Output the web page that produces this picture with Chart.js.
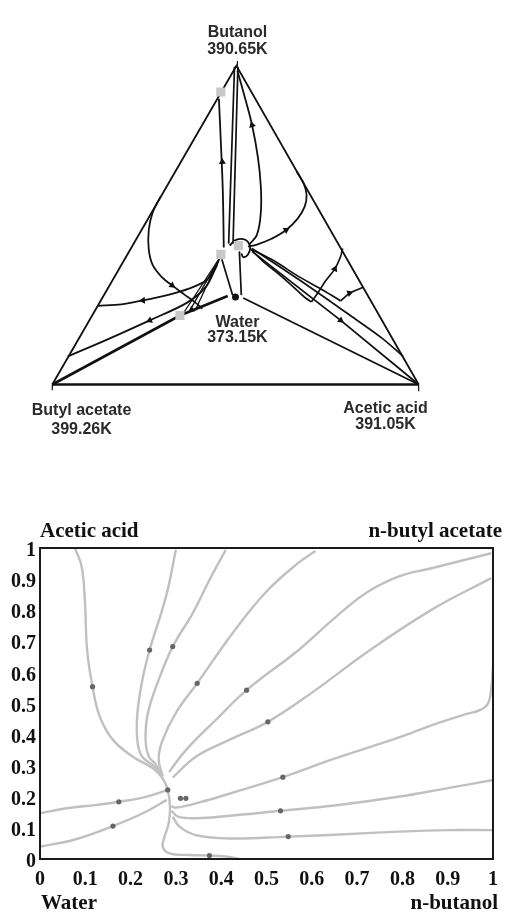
<!DOCTYPE html>
<html>
<head>
<meta charset="utf-8">
<script src="https://cdn.jsdelivr.net/npm/chart.js@4.4.1/dist/chart.umd.min.js"></script>
<style>
  body { margin: 0; background: #fff; }
  canvas { position: absolute; left: 0; }
  #ternary { top: 0; }
  #residue { top: 460px; }
</style>
</head>
<body>
<canvas id="ternary" width="507" height="460"></canvas>
<canvas id="residue" width="507" height="454"></canvas>
<script>
// ---- top diagram: residue curve map, in picture coordinates (x right, y down) ----
const vertexNames = ['Butanol', 'Water', 'Butyl acetate', 'Acetic acid'];
const vertexTemps = ['390.65K', '373.15K', '399.26K', '391.05K'];

const triangleSides = [[236, 61], [47, 389], [236, 61], [423, 389]];
const triangleBase = [[47, 389], [423, 389]];
const tickTop = [[237, 56], [237, 61]];
const tickLeft = [[47, 389], [47, 395]];
const tickRight = [[423, 389], [423, 396]];
const butylToWater = [[47, 389], [178, 318], [227, 298]];
const waterToAcid = [[243, 300], [423, 389]];
const verticalA = [[234, 62], [228, 244]];
const verticalB = [[237.5, 62], [232.5, 244]];
const azeoLine = [[218, 95], [220, 140], [222, 190], [223, 248]];
const topCurve = [[237, 66], [245, 95], [252, 122], [258, 155], [261, 185], [261, 212], [257, 235], [249, 245]];
const hook = [[229, 246], [236, 240], [245, 240], [250, 247], [248, 255], [243, 258], [241, 254]];
const rightLoop = [[298, 170], [305, 182], [308, 194], [306, 206], [299, 218], [287, 230], [272, 239], [257, 245], [248, 247]];
const leftLoop = [[158, 196], [150, 212], [146, 230], [146, 250], [150, 266], [160, 279], [170, 287], [182, 296], [193, 304], [201, 311]];
const upperLeft = [[94, 308], [118, 306.5], [140, 302.5], [165, 297], [188, 290], [205, 282], [214, 270], [219, 258]];
const lowerLeft = [[63, 360], [105, 342], [147, 323], [185, 305], [205, 288], [216, 266]];
const fan1 = [[218, 260], [180, 318]];
const fan2 = [[218, 260], [187, 315]];
const fan3 = [[218, 260], [194, 312]];
const saddle1ToWater = [[221, 260], [232, 297]];
const saddle2ToWater = [[239, 252], [241, 297]];
const rightCurveA = [[250, 249], [263, 262], [280, 276], [296, 290], [307, 300], [313, 304]];
const rightCurveA2 = [[313, 304], [320, 294], [327, 283], [337, 270], [343, 257], [345, 249]];
const rightCurveB = [[252, 250], [275, 262], [300, 278], [325, 292], [343, 303]];
const rightCurveB2 = [[343, 303], [352, 295], [366, 289]];
const saddleToAcid = [[252, 252], [343, 323], [423, 389]];
const upperToSide = [[252, 249], [300, 281], [350, 316], [385, 341], [407, 360]];

const arrowPoints = [[221.5, 160], [252, 122], [287, 230], [337, 270], [352, 295], [343, 323], [140, 302.5], [147, 323], [170, 287], [190, 312]];
const arrowAngles = [-2, -15, 60, 25, 70, 128, 266, 246, 127, 235];
const azeotropes = [[220, 88], [220, 255], [238, 246], [178, 318]];
const waterNode = [[235, 299]];

// ---- bottom diagram: transformed composition space ----
const xTicks = [0, 0.1, 0.2, 0.3, 0.4, 0.5, 0.6, 0.7, 0.8, 0.9, 1];
const cornerLabels = ['Acetic acid', 'n-butyl acetate', 'Water', 'n-butanol'];

const curveA = [[0.077, 1.0], [0.092, 0.94], [0.099, 0.833], [0.104, 0.672], [0.116, 0.554], [0.132, 0.458], [0.161, 0.383], [0.205, 0.329], [0.249, 0.292], [0.271, 0.259], [0.282, 0.222], [0.287, 0.168], [0.284, 0.115], [0.275, 0.072], [0.271, 0.039], [0.286, 0.018], [0.33, 0.013], [0.374, 0.011], [0.418, 0.007], [0.44, 0.0]];
const curveB = [[0.30, 0.994], [0.278, 0.843], [0.242, 0.672], [0.226, 0.576], [0.215, 0.468], [0.215, 0.38], [0.225, 0.33], [0.25, 0.3], [0.268, 0.27]];
const curveC = [[0.41, 0.994], [0.374, 0.897], [0.337, 0.79], [0.293, 0.683], [0.262, 0.576], [0.238, 0.468], [0.233, 0.38], [0.24, 0.33], [0.255, 0.305], [0.268, 0.27]];
const curveD = [[0.608, 0.99], [0.571, 0.953], [0.498, 0.857], [0.425, 0.726], [0.347, 0.565], [0.30, 0.47], [0.27, 0.38], [0.262, 0.32], [0.271, 0.265]];
const curveE = [[0.996, 0.983], [0.864, 0.935], [0.791, 0.908], [0.718, 0.854], [0.645, 0.768], [0.571, 0.672], [0.456, 0.543], [0.388, 0.447], [0.322, 0.35], [0.285, 0.28]];
const curveF = [[0.996, 0.903], [0.864, 0.801], [0.718, 0.661], [0.608, 0.543], [0.503, 0.441], [0.418, 0.383], [0.344, 0.329], [0.293, 0.262]];
const curveG = [[1.0, 0.62], [0.997, 0.56], [0.989, 0.5], [0.97, 0.478], [0.938, 0.465], [0.864, 0.43], [0.791, 0.39], [0.645, 0.32], [0.536, 0.263], [0.425, 0.213], [0.352, 0.182], [0.30, 0.165], [0.29, 0.17]];
const curveH = [[1.0, 0.254], [0.9, 0.228], [0.791, 0.2], [0.65, 0.172], [0.531, 0.155], [0.425, 0.14], [0.344, 0.131], [0.305, 0.136], [0.29, 0.155]];
const curveI = [[1.0, 0.093], [0.9, 0.093], [0.791, 0.088], [0.65, 0.078], [0.548, 0.072], [0.418, 0.066], [0.344, 0.077], [0.308, 0.104], [0.293, 0.136]];
const curveJ = [[0, 0.147], [0.059, 0.163], [0.125, 0.174], [0.174, 0.184], [0.234, 0.2], [0.282, 0.222]];
const curveK = [[0, 0.04], [0.073, 0.061], [0.161, 0.106], [0.227, 0.147], [0.28, 0.19]];
const curveDots = [[0.116, 0.554], [0.242, 0.672], [0.293, 0.683], [0.347, 0.565], [0.456, 0.543], [0.503, 0.441], [0.536, 0.263], [0.531, 0.155], [0.548, 0.072], [0.174, 0.184], [0.161, 0.106], [0.374, 0.011], [0.282, 0.222], [0.31, 0.195], [0.322, 0.195]];

function pts (arr) {
    return arr.map(p => ({ x: p[0], y: p[1] }));
}

function path (arr, width, tension) {
    return {
        data: pts(arr),
        showLine: true,
        borderColor: '#111',
        borderWidth: width,
        tension: tension,
        pointRadius: 0
    };
}

const ternaryLabels = {
    id: 'ternaryLabels',
    afterDraw (chart) {
        const ctx = chart.ctx;
        const sx = chart.scales.x;
        const sy = chart.scales.y;
        const spots = [[237, 31, 49], [237, 330, 345], [77, 420, 440], [389, 418, 435]];
        ctx.save();
        ctx.fillStyle = '#2a2a2a';
        ctx.font = 'bold 16px "Liberation Sans"';
        ctx.textAlign = 'center';
        ctx.textBaseline = 'alphabetic';
        spots.forEach((s, i) => {
            ctx.fillText(vertexNames[i], sx.getPixelForValue(s[0]), sy.getPixelForValue(s[1]));
            ctx.fillText(vertexTemps[i], sx.getPixelForValue(s[0]), sy.getPixelForValue(s[2]));
        });
        ctx.restore();
    }
};

new Chart(document.getElementById('ternary'), {
    type: 'scatter',
    data: {
        datasets: [
            {
                data: pts(arrowPoints),
                pointStyle: 'triangle',
                pointRadius: 4,
                pointRotation: arrowAngles,
                backgroundColor: '#111',
                borderColor: '#111',
                borderWidth: 0
            },
            {
                data: pts(azeotropes),
                pointStyle: 'rect',
                pointRadius: 6.5,
                backgroundColor: '#c8c8c8',
                borderWidth: 0
            },
            {
                data: pts(waterNode),
                pointStyle: 'circle',
                pointRadius: 3.5,
                backgroundColor: '#111',
                borderWidth: 0
            },
            path(triangleSides, 1.8, 0),
            path(triangleBase, 2.6, 0),
            path(tickTop, 1.2, 0),
            path(tickLeft, 1.2, 0),
            path(tickRight, 1.2, 0),
            path(butylToWater, 2.6, 0),
            path(waterToAcid, 1.9, 0),
            path(verticalA, 1.7, 0),
            path(verticalB, 1.7, 0),
            path(azeoLine, 1.8, 0.4),
            path(topCurve, 1.8, 0.4),
            path(hook, 1.8, 0.4),
            path(rightLoop, 1.8, 0.4),
            path(leftLoop, 1.8, 0.4),
            path(upperLeft, 1.8, 0.3),
            path(lowerLeft, 1.8, 0.3),
            path(fan1, 1.3, 0),
            path(fan2, 1.3, 0),
            path(fan3, 1.3, 0),
            path(saddle1ToWater, 1.7, 0),
            path(saddle2ToWater, 1.7, 0),
            path(rightCurveA, 1.7, 0.3),
            path(rightCurveA2, 1.7, 0.3),
            path(rightCurveB, 1.7, 0.3),
            path(rightCurveB2, 1.7, 0.2),
            path(saddleToAcid, 1.8, 0),
            path(upperToSide, 1.7, 0.3)
        ]
    },
    options: {
        responsive: false,
        animation: false,
        layout: { padding: 0 },
        plugins: {
            legend: { display: false },
            tooltip: { enabled: false }
        },
        scales: {
            x: { type: 'linear', min: 0, max: 507, display: false },
            y: { type: 'linear', min: 0, max: 460, reverse: true, display: false }
        }
    },
    plugins: [ternaryLabels]
});

// bottom chart
const serif = '"Liberation Serif", "Times New Roman", serif';

const frameAndTitles = {
    id: 'frameAndTitles',
    afterDraw (chart) {
        const ctx = chart.ctx;
        const a = chart.chartArea;
        ctx.save();
        ctx.strokeStyle = '#1a1a1a';
        ctx.lineWidth = 2;
        ctx.strokeRect(a.left, a.top, a.right - a.left, a.bottom - a.top);
        ctx.fillStyle = '#111';
        ctx.font = 'bold 21px ' + serif;
        ctx.textBaseline = 'alphabetic';
        ctx.textAlign = 'left';
        ctx.fillText(cornerLabels[0], a.left, a.top - 11);
        ctx.fillText(cornerLabels[2], a.left + 1, a.bottom + 50);
        ctx.textAlign = 'right';
        ctx.fillText(cornerLabels[1], a.right + 9, a.top - 11);
        ctx.fillText(cornerLabels[3], a.right + 5, a.bottom + 50);
        ctx.restore();
    }
};

function curve (arr) {
    return {
        data: pts(arr),
        showLine: true,
        borderColor: '#c0c0c0',
        borderWidth: 2.4,
        tension: 0.4,
        pointRadius: 0
    };
}

const tickFont = { family: serif, size: 20, weight: 'bold' };

new Chart(document.getElementById('residue'), {
    type: 'scatter',
    data: {
        datasets: [
            {
                data: pts(curveDots),
                pointStyle: 'circle',
                pointRadius: 2.6,
                backgroundColor: '#666',
                borderWidth: 0
            },
            curve(curveA), curve(curveB), curve(curveC), curve(curveD),
            curve(curveE), curve(curveF), curve(curveG), curve(curveH),
            curve(curveI), curve(curveJ), curve(curveK)
        ]
    },
    options: {
        responsive: false,
        animation: false,
        layout: { padding: { top: 88, right: 12, left: 0, bottom: 0 } },
        plugins: {
            legend: { display: false },
            tooltip: { enabled: false }
        },
        scales: {
            x: {
                type: 'linear',
                min: 0,
                max: 1,
                afterBuildTicks: s => { s.ticks = xTicks.map(v => ({ value: v })); },
                afterFit: s => { s.height = 55; },
                grid: { display: false, drawTicks: false },
                border: { display: false },
                ticks: {
                    font: tickFont,
                    color: '#111',
                    padding: 9,
                    maxRotation: 0,
                    autoSkip: false,
                    callback: v => String(Number(v.toFixed(1)))
                }
            },
            y: {
                type: 'linear',
                min: 0,
                max: 1,
                afterBuildTicks: s => { s.ticks = xTicks.map(v => ({ value: v })); },
                afterFit: s => { s.width = 40; },
                grid: { display: false, drawTicks: false },
                border: { display: false },
                ticks: {
                    font: tickFont,
                    color: '#111',
                    padding: 4,
                    labelOffset: 3,
                    autoSkip: false,
                    callback: v => String(Number(v.toFixed(1)))
                }
            }
        }
    },
    plugins: [frameAndTitles]
});
</script>
</body>
</html>
